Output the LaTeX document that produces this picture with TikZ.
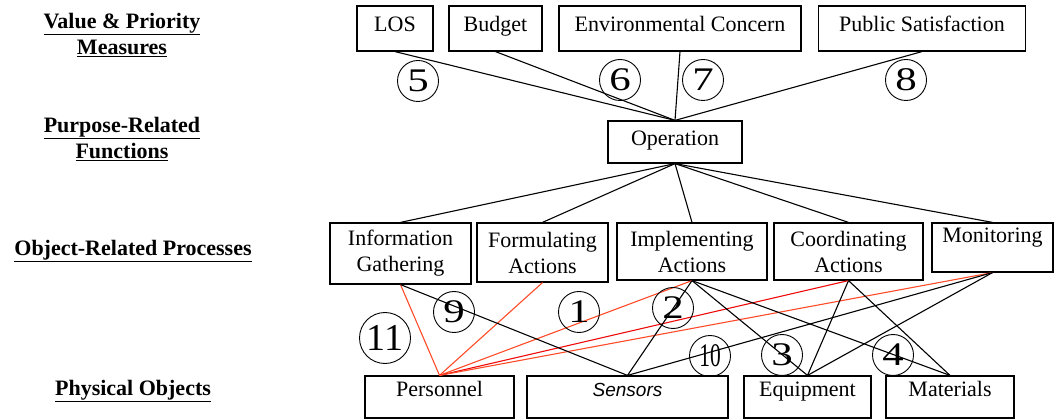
\documentclass[tikz,border=0pt]{standalone}
\usepackage{fontspec}
\setmainfont{Liberation Serif}
\newfontfamily\sensfont{Liberation Sans}
\usepackage{tikz}
\usetikzlibrary{arrows}

\definecolor{orangered}{RGB}{255,75,40}
\definecolor{deepred}{RGB}{240,10,10}

\begin{document}
\begin{tikzpicture}[x=1pt,y=-1pt,font=\fontsize{22}{26}\selectfont]

    \tikzstyle{box}=[draw=black,line width=1.2pt,inner sep=2pt,align=center]
    \tikzstyle{onebox}=[box,text height=15pt,text depth=9pt]
    \tikzstyle{levelname}=[font=\fontsize{22}{26}\selectfont\bfseries,align=center]
    \tikzstyle{numcirc}=[circle,draw=black,line width=0.9pt,minimum size=41pt,inner sep=0pt,font=\fontsize{33}{33}\selectfont]
    \tikzstyle{link}=[black,line width=1.1pt]
    \tikzstyle{redlink}=[orangered,line width=1.1pt]

    \useasboundingbox (0,0) rectangle (1054,419);

    \node[levelname] (valuelvl)   at (122,35)  {\underline{Value \& Priority}\\\underline{Measures}};
    \node[levelname] (purposelvl) at (122,139) {\underline{Purpose-Related}\\\underline{Functions}};
    \node[levelname] (objectlvl)  at (133,251) {\underline{Object-Related Processes}};
    \node[levelname] (physlvl)    at (133,391) {\underline{Physical Objects}};

    \node[onebox, minimum width=76pt,  minimum height=45pt] (los)    at (395,28.5)   {LOS};
    \node[onebox, minimum width=93pt,  minimum height=45pt] (budget) at (495.5,28.5) {Budget};
    \node[onebox, minimum width=242pt, minimum height=45pt] (env)    at (680,28.5)   {Environmental Concern};
    \node[onebox, minimum width=207pt, minimum height=45pt] (pub)    at (922,28.5)   {Public Satisfaction};

    \node[onebox, minimum width=134pt, minimum height=42pt, text depth=7pt] (op) at (675,142) {Operation};

    \node[box, minimum width=141pt, minimum height=61pt] (info)  at (400.5,253.5) {Information\\Gathering};
    \node[box, minimum width=131pt, minimum height=59pt] (form)  at (542.5,252.5) {Formulating\\Actions};
    \node[box, minimum width=150pt, minimum height=57pt] (impl)  at (692,251.5)   {Implementing\\Actions};
    \node[box, minimum width=149pt, minimum height=57pt] (coord) at (848.5,251.5) {Coordinating\\Actions};
    \node[onebox, minimum width=121pt, minimum height=49pt, text depth=24pt] (mon) at (992.5,247.5) {Monitoring};

    \node[onebox, minimum width=149pt, minimum height=42pt, text depth=16pt] (pers)  at (439.5,397) {Personnel};
    \node[onebox, minimum width=201pt, minimum height=42pt, text depth=16pt] (sens)  at (627.5,397) {\sensfont\itshape\fontsize{19}{22}\selectfont Sensors};
    \node[onebox, minimum width=127pt, minimum height=42pt, text depth=16pt] (equip) at (807.5,397) {Equipment};
    \node[onebox, minimum width=128pt, minimum height=42pt, text depth=16pt] (mat)   at (950,397)   {Materials};

    \path[link] (los.south)    edge (op.north)
                (budget.south) edge (op.north)
                (env.south)    edge (op.north)
                (pub.south)    edge (op.north)
                (op.south)     edge (info.north)
                (op.south)     edge (form.north)
                (op.south)     edge (impl.north)
                (op.south)     edge (coord.north)
                (op.south)     edge (mon.north);

    % processes to physical objects
    \path[redlink] (info.south)  edge (pers.north)
                   (form.south)  edge (pers.north)
                   (impl.south)  edge (pers.north)
                   (coord.south) edge [deepred] (pers.north)
                   (mon.south)   edge (pers.north);
    \path[link] (info.south)  edge (sens.north)
                (impl.south)  edge (sens.north)
                (impl.south)  edge (equip.north)
                (impl.south)  edge (mat.north)
                (coord.south) edge (equip.north)
                (coord.south) edge (mat.north)
                (mon.south)   edge (sens.north)
                (mon.south)   edge (equip.north);

    \node[numcirc] (n5)  at (418,81)  {\scalebox{1.3}[1]{5}};
    \node[numcirc] (n6)  at (620,80)  {\scalebox{1.3}[1]{6}};
    \node[numcirc] (n7)  at (703,80)  {\scalebox{1.3}[1]{7}};
    \node[numcirc] (n8)  at (906,80)  {\scalebox{1.3}[1]{8}};
    \node[numcirc] (n9)  at (454,312) {\scalebox{1.3}[1]{9}};
    \node[numcirc] (n1)  at (579,312) {\scalebox{1.3}[1]{1}};
    \node[numcirc, minimum size=51pt, font=\fontsize{38}{38}\selectfont] (n11) at (385,338) {11};
    \node[numcirc] (n2)  at (673,308) {\scalebox{1.3}[1]{2}};
    \node[numcirc] (n10) at (710,356) {\scalebox{0.65}[1]{10}};
    \node[numcirc] (n3)  at (782,355) {\scalebox{1.3}[1]{3}};
    \node[numcirc] (n4)  at (893,355) {\scalebox{1.3}[1]{4}};

\end{tikzpicture}
\end{document}
